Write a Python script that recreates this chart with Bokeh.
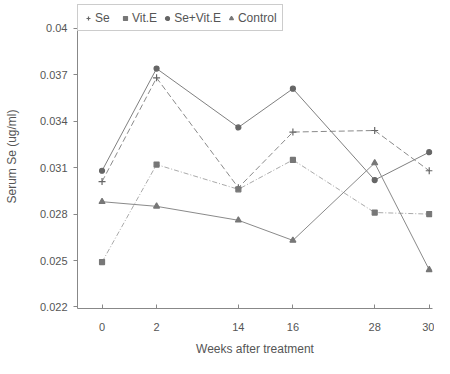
from bokeh.plotting import figure
from bokeh.models import (Range1d, FixedTicker, Legend, LegendItem, ColumnDataSource)
from bokeh.embed import file_html
from bokeh.resources import INLINE

# ---- data ----
weeks = ["0", "2", "14", "16", "28", "30"]
week_pos = [0, 1, 2.5, 3.5, 5, 6]          # axis positions of the week categories (paired layout)
se = [0.0301, 0.0368, 0.0297, 0.0333, 0.0334, 0.0308]
vit_e = [0.0249, 0.0312, 0.0296, 0.0315, 0.0281, 0.0280]
se_vit_e = [0.0308, 0.0374, 0.0336, 0.0361, 0.0302, 0.0320]
control = [0.0288, 0.0285, 0.0276, 0.0263, 0.0313, 0.0244]
y_ticks = [0.022, 0.025, 0.028, 0.031, 0.034, 0.037, 0.04]
y_tick_labels = ["0.022", "0.025", "0.028", "0.031", "0.034", "0.037", "0.04"]

FONT = "Liberation Sans"
TXT = "#555555"

p = figure(width=434, height=358, output_backend="svg", toolbar_location=None,
           x_range=Range1d(-0.45, 6.06), y_range=Range1d(0.0219, 0.04154),
           min_border_left=77, min_border_right=2, min_border_top=4, min_border_bottom=0)
p.outline_line_color = None
p.grid.visible = False
p.background_fill_color = "white"

series = [
    ("Se", se, "cross", "#666666", "6 3", 1.0, 7),
    ("Vit.E", vit_e, "square", "#777777", "5 2 1 2", 1.0, 5),
    ("Se+Vit.E", se_vit_e, "circle", "#666666", "solid", 1.0, 5),
    ("Control", control, "triangle", "#777777", "solid", 1.0, 6),
]
line_colors = {"Se": "#8a8a8a", "Vit.E": "#aaaaaa", "Se+Vit.E": "#808080", "Control": "#8a8a8a"}

items = []
for name, vals, marker, col, dash, lw, size in series:
    src = ColumnDataSource(dict(x=week_pos, y=vals))
    p.line("x", "y", source=src, line_color=line_colors[name], line_dash=dash, line_width=lw)
    r = p.scatter("x", "y", source=src, marker=marker, size=size,
                  fill_color=col, line_color=col, line_width=1.2)
    items.append(LegendItem(label=name, renderers=[r]))

legend = Legend(items=items, orientation="horizontal", location="top_left",
                label_text_font=FONT, label_text_font_size="12px", label_text_color="#555555",
                glyph_width=10, glyph_height=12, label_standoff=2, spacing=5,
                padding=5, margin=0, border_line_color="#999999", border_line_width=1,
                label_height=15, background_fill_alpha=1.0)
p.add_layout(legend)

# x axis
p.xaxis.ticker = FixedTicker(ticks=week_pos)
p.xaxis.major_label_overrides = {pos: w for pos, w in zip(week_pos, weeks)}
p.xaxis.axis_label = "Weeks after treatment"
p.xaxis.major_tick_in = 4
p.xaxis.major_tick_out = 0
p.xaxis.minor_tick_line_color = None
p.xaxis.major_label_standoff = 14
p.xaxis.axis_label_standoff = 8

# y axis
p.yaxis.ticker = FixedTicker(ticks=y_ticks)
p.yaxis.major_label_overrides = {t: l for t, l in zip(y_ticks, y_tick_labels)}
p.yaxis.axis_label = "Serum Se (ug/ml)"
p.yaxis.major_tick_in = 0
p.yaxis.major_tick_out = 4
p.yaxis.minor_tick_line_color = None
p.yaxis.major_label_standoff = 6
p.yaxis.axis_label_standoff = 18

for ax in (p.xaxis, p.yaxis):
    ax.axis_line_color = "#888888"
    ax.major_tick_line_color = "#888888"
    ax.major_label_text_font = FONT
    ax.major_label_text_font_size = "11px"
    ax.major_label_text_color = TXT
    ax.axis_label_text_font = FONT
    ax.axis_label_text_font_size = "12px"
    ax.axis_label_text_font_style = "normal"
    ax.axis_label_text_color = TXT

open("out.html", "w").write(file_html(p, INLINE))
